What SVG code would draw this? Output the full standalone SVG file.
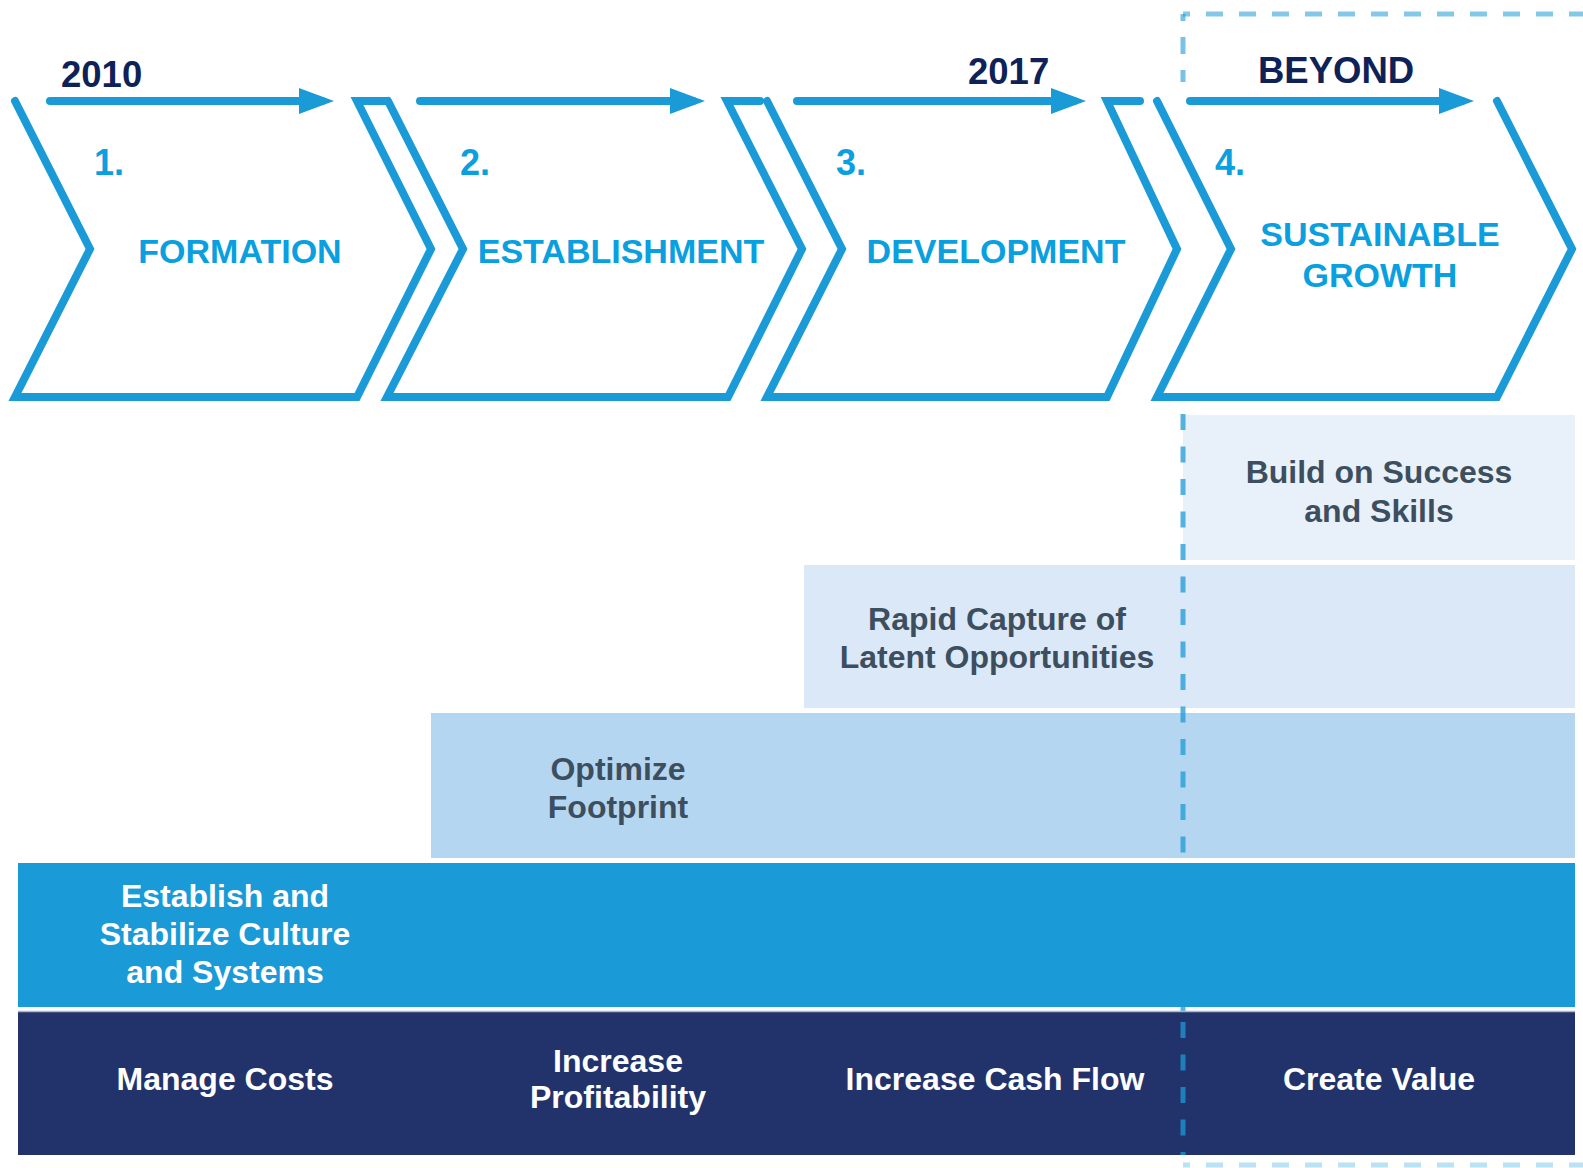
<svg xmlns="http://www.w3.org/2000/svg" width="1583" height="1168" viewBox="0 0 1583 1168">
  <defs>
    <marker id="ah" markerUnits="userSpaceOnUse" markerWidth="36" markerHeight="28" refX="23" refY="13" orient="auto">
      <path d="M0,0 L35,13 L0,26 z" fill="#1a9ad6"/>
    </marker>
    <style>
      .chev{fill:none;stroke:#1a9ad6;stroke-width:8;stroke-linejoin:miter;stroke-linecap:round}
      .arr{fill:none;stroke:#1a9ad6;stroke-width:8;stroke-linecap:round}
      .year{font-family:"Liberation Sans",Arial,sans-serif;font-weight:bold;font-size:36.5px;fill:#0e2257}
      .num{font-family:"Liberation Sans",Arial,sans-serif;font-weight:bold;font-size:36px;fill:#0aa0e0}
      .phase{font-family:"Liberation Sans",Arial,sans-serif;font-weight:bold;font-size:34px;fill:#0aa0e0;text-anchor:middle}
      .lt{font-family:"Liberation Sans",Arial,sans-serif;font-weight:bold;font-size:32px;fill:#3d4f5f;text-anchor:middle}
      .wt{font-family:"Liberation Sans",Arial,sans-serif;font-weight:bold;font-size:32px;fill:#ffffff;text-anchor:middle}
      .dash{fill:none;stroke:#1e9ad6;stroke-width:5}
    </style>
  </defs>
  <rect x="0" y="0" width="1583" height="1168" fill="#ffffff"/>

  <!-- bands -->
  <g id="band-build">
    <rect x="1183" y="415" width="392" height="145" fill="#e8f1fa"/>
    <text class="lt" x="1379" y="483">Build on Success</text>
    <text class="lt" x="1379" y="522">and Skills</text>
  </g>
  <g id="band-rapid">
    <rect x="804" y="565" width="771" height="143" fill="#dae8f7"/>
    <text class="lt" x="997" y="630">Rapid Capture of</text>
    <text class="lt" x="997" y="668">Latent Opportunities</text>
  </g>
  <g id="band-optimize">
    <rect x="431" y="713" width="1144" height="145" fill="#b5d6f0"/>
    <text class="lt" x="618" y="780">Optimize</text>
    <text class="lt" x="618" y="818">Footprint</text>
  </g>

  <!-- dashed beyond boundary -->
  <g id="beyond-boundary">
    <path class="dash" d="M1183,14 H1583" stroke-dasharray="17 16" stroke-dashoffset="10" opacity="0.55"/>
    <path class="dash" d="M1183,14 V82" stroke-dasharray="17 16" stroke-dashoffset="10" opacity="0.6"/>
    <path class="dash" d="M1183,414 V1160" stroke-dasharray="16 16.5" opacity="0.75"/>
    <path class="dash" d="M1183,1165 H1583" stroke-dasharray="17 16" stroke-dashoffset="10" opacity="0.3"/>
  </g>

  <g id="band-establish">
    <rect x="18" y="863" width="1557" height="144" fill="#1a9ad6"/>
    <text class="wt" x="225" y="907">Establish and</text>
    <text class="wt" x="225" y="945">Stabilize Culture</text>
    <text class="wt" x="225" y="983">and Systems</text>
  </g>
  <g id="band-value">
    <rect x="18" y="1012" width="1557" height="143" fill="#22336b"/>
    <line x1="18" y1="1011.5" x2="1575" y2="1011.5" stroke="#aeb4c6" stroke-width="1.5"/>
    <path class="dash" d="M1183,1016 V1155" stroke-dasharray="16 16.5" stroke-dashoffset="-6" opacity="0.75"/>
    <text class="wt" x="225" y="1090">Manage Costs</text>
    <text class="wt" x="618" y="1072">Increase</text>
    <text class="wt" x="618" y="1108">Profitability</text>
    <text class="wt" x="995" y="1090">Increase Cash Flow</text>
    <text class="wt" x="1379" y="1090">Create Value</text>
  </g>

  <!-- chevrons -->
  <g id="phase-1">
    <polyline class="chev" points="15,101 90,249 15,397 357,397 431,249 357,101 386,101"/>
    <text class="num" x="94" y="175">1.</text>
    <text class="phase" x="240" y="263">FORMATION</text>
  </g>
  <g id="phase-2">
    <polyline class="chev" points="388,101 463,249 387,397 728,397 802,249 727,101 760,101"/>
    <text class="num" x="460" y="175">2.</text>
    <text class="phase" x="621" y="263">ESTABLISHMENT</text>
  </g>
  <g id="phase-3">
    <polyline class="chev" points="767,101 842,249 767,397 1107,397 1177,249 1107,101 1140,101"/>
    <text class="num" x="836" y="175">3.</text>
    <text class="phase" x="996" y="263">DEVELOPMENT</text>
  </g>
  <g id="phase-4">
    <polyline class="chev" points="1157,101 1231,249 1157,397 1497,397 1572,249 1497,101"/>
    <text class="num" x="1215" y="175">4.</text>
    <text class="phase" x="1380" y="246">SUSTAINABLE</text>
    <text class="phase" x="1380" y="287">GROWTH</text>
  </g>

  <!-- timeline arrows -->
  <g id="connectors">
    <line class="arr" x1="50" y1="101" x2="322" y2="101" marker-end="url(#ah)"/>
    <line class="arr" x1="420" y1="101" x2="693" y2="101" marker-end="url(#ah)"/>
    <line class="arr" x1="797" y1="101" x2="1074" y2="101" marker-end="url(#ah)"/>
    <line class="arr" x1="1190" y1="101" x2="1462" y2="101" marker-end="url(#ah)"/>
  </g>

  <g id="years">
    <text class="year" x="61" y="87">2010</text>
    <text class="year" x="968" y="84">2017</text>
    <text class="year" x="1258" y="83">BEYOND</text>
  </g>
</svg>
